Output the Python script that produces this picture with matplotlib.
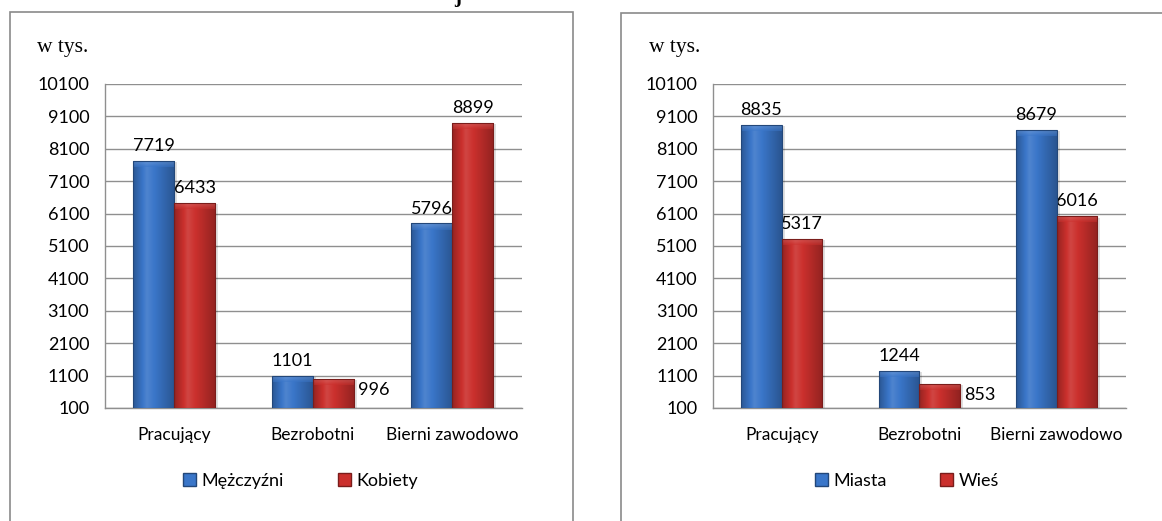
import numpy as np
import matplotlib.pyplot as plt
from matplotlib.patches import Rectangle, Patch
from matplotlib.colors import to_rgb

categories = ['Pracujący', 'Bezrobotni', 'Bierni zawodowo']
men = [7719, 1101, 5796]
women = [6433, 996, 8899]
city = [8835, 1244, 8679]
village = [5317, 853, 6016]
yticks = list(range(100, 10101, 1000))

BLUE = '#3a76c9'
RED = '#cb302d'
GRID = '#8f8f8f'

plt.rcParams['font.family'] = ['Lato', 'DejaVu Sans']


def shade(base, f):
    r, g, b = to_rgb(base)
    if f >= 1:
        return tuple(c + (1 - c) * (f - 1) for c in (r, g, b))
    return tuple(c * f for c in (r, g, b))


def gradient_bar(ax, x, w, h, base):
    # horizontal cylinder-like shading, lighter top bevel
    prof = np.concatenate([np.linspace(0.74, 1.1, 20), np.linspace(1.1, 0.72, 40)])
    row = np.array([shade(base, f) for f in prof])
    img = np.tile(row[None, :, :], (2, 1, 1))
    bottom = 100
    rect = Rectangle((x - w / 2, bottom), w, h - bottom, facecolor='none',
                     edgecolor=shade(base, 0.6), lw=0.8, zorder=4)
    ax.add_patch(rect)
    im = ax.imshow(img, extent=(x - w / 2, x + w / 2, bottom, h), aspect='auto',
                   origin='lower', zorder=3, interpolation='bicubic')
    im.set_clip_path(rect)
    bev = 190
    if h - bottom > bev:
        top = np.array([shade(base, f) for f in np.linspace(1.0, 1.35, 8)])
        timg = np.tile(top[:, None, :], (1, len(prof), 1)) * 0.5 + np.tile(row[None, :, :], (8, 1, 1)) * 0.5
        im2 = ax.imshow(np.clip(timg, 0, 1), extent=(x - w / 2 + 1e-3, x + w / 2, h - bev, h),
                        aspect='auto', origin='lower', zorder=3.5, interpolation='bicubic')
        im2.set_clip_path(rect)
    # soft shadow
    ax.add_patch(Rectangle((x - w / 2 + 0.02, bottom), w, h - bottom - 40, facecolor='#000000',
                           alpha=0.12, lw=0, zorder=2.5))


def draw_panel(ax, s1, s2, names, side_labels):
    w = 0.295
    xs = np.arange(len(categories))
    ax.set_xlim(-0.5, len(categories) - 0.5)
    ax.set_ylim(100, 10100)
    ax.set_yticks(yticks)
    ax.set_xticks(xs)
    ax.set_xticklabels(categories)
    ax.yaxis.grid(True, color=GRID, lw=1)
    ax.set_axisbelow(True)
    for sp in ['top', 'right']:
        ax.spines[sp].set_visible(False)
    for sp in ['left', 'bottom']:
        ax.spines[sp].set_color(GRID)
        ax.spines[sp].set_linewidth(1)
    ax.tick_params(axis='y', length=0, pad=11, labelsize=13)
    ax.tick_params(axis='x', length=0, pad=14, labelsize=12.5)
    for i in xs:
        for val, off, col in ((s1[i], -w / 2, BLUE), (s2[i], w / 2, RED)):
            gradient_bar(ax, i + off, w, val, col)
            if val in side_labels:
                ax.annotate(str(val), (i + off + w / 2, val), xytext=(3, -8), textcoords='offset points',
                            ha='left', va='center', fontsize=13)
            else:
                ax.annotate(str(val), (i + off, val), xytext=(0, 5), textcoords='offset points',
                            ha='center', va='bottom', fontsize=13)
    handles = [Patch(facecolor=BLUE, edgecolor=shade(BLUE, 0.6), label=names[0]),
               Patch(facecolor=RED, edgecolor=shade(RED, 0.6), label=names[1])]
    ax.legend(handles=handles, loc='center', bbox_to_anchor=(0.47, -0.225), ncol=2, frameon=False,
              fontsize=13, handlelength=0.7, handleheight=0.7, handletextpad=0.3, columnspacing=3.0)


fig = plt.figure(figsize=(11.62, 5.21), dpi=100)
W, H = 1162, 521

# panel frames
fig.patches.append(Rectangle((10 / W, -0.05), 563 / W, 1.05 - 12 / H, transform=fig.transFigure,
                             fill=False, edgecolor='#8a8a8a', lw=1.2))
fig.patches.append(Rectangle((621 / W, -0.05), 0.6, 1.05 - 13 / H, transform=fig.transFigure,
                             fill=False, edgecolor='#8a8a8a', lw=1.2))

# tail of the heading above, cut by the page edge
fig.text(454 / W, 1 - 2 / H, 'j', family='Liberation Serif', fontweight='bold', fontsize=15,
         va='baseline', ha='left')

ax1 = fig.add_axes([104.5 / W, 1 - 408 / H, 417 / W, 324 / H])
ax2 = fig.add_axes([713 / W, 1 - 408 / H, 412.5 / W, 324 / H])

draw_panel(ax1, men, women, ['Mężczyźni', 'Kobiety'], [996])
draw_panel(ax2, city, village, ['Miasta', 'Wieś'], [853])

fig.text(37 / W, 1 - 47 / H, 'w tys.', family='Liberation Serif', fontsize=15.5, va='center')
fig.text(649 / W, 1 - 47 / H, 'w tys.', family='Liberation Serif', fontsize=15.5, va='center')

fig.savefig('out.png', dpi=100)
